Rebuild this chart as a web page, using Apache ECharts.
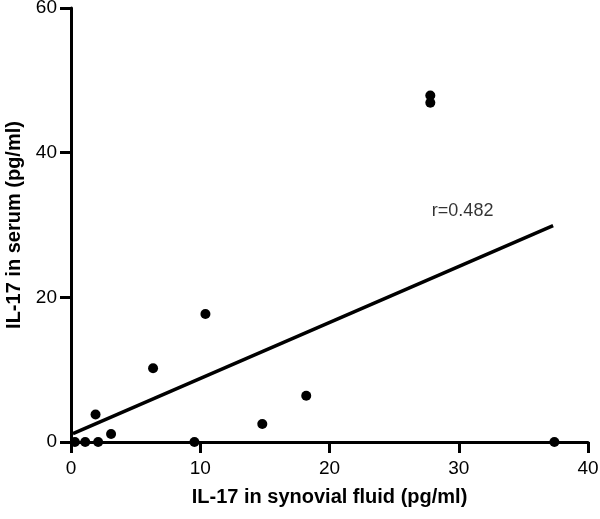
<!DOCTYPE html>
<html>
<head>
<meta charset="utf-8">
<script src="https://cdn.jsdelivr.net/npm/echarts@6/dist/echarts.min.js"></script>
<style>html,body{margin:0;padding:0;background:#fff}#c{width:600px;height:519px}</style>
</head>
<body>
<div id="c"></div>
<script>
const xValues = [0.3, 1.1, 2.1, 9.55, 1.9, 3.1, 6.35, 10.4, 14.8, 18.2, 27.8, 27.8, 37.4];
const yValues = [0, 0, 0, 0, 3.8, 1.1, 10.2, 17.7, 2.5, 6.4, 47.9, 46.9, 0];
const fitX = [0.15, 37.3];
const fitY = [1.15, 29.9];
const annotation = { x: 30.3, y: 31.9, text: 'r=0.482' };
const xTicks = [0, 10, 20, 30, 40];
const yTicks = [0, 20, 40, 60];

const font = 'Liberation Sans, Arial, Helvetica, sans-serif';
const chart = echarts.init(document.getElementById('c'));
chart.setOption({
  animation: false,
  grid: { left: 71, right: 12, top: 8, bottom: 77, containLabel: false, outerBoundsMode: 'none' },
  xAxis: {
    type: 'value', min: xTicks[0], max: xTicks[xTicks.length - 1], interval: 10,
    name: 'IL-17 in synovial fluid (pg/ml)', nameGap: 45, nameLocation: 'middle',
    nameTextStyle: { color: '#000', fontSize: 20, fontWeight: 'bold', fontFamily: font },
    axisLine: { show: true, onZero: false, lineStyle: { color: '#000', width: 3 } },
    axisTick: { show: true, inside: false, length: 11, lineStyle: { color: '#000', width: 3 } },
    splitLine: { show: false },
    axisLabel: { color: '#000', fontSize: 19, fontFamily: font, margin: 17 }
  },
  yAxis: {
    type: 'value', min: yTicks[0], max: yTicks[yTicks.length - 1], interval: 20,
    name: 'IL-17 in serum (pg/ml)', nameGap: 42, nameRotate: 90, nameLocation: 'middle',
    nameTextStyle: { color: '#000', fontSize: 20, fontWeight: 'bold', fontFamily: font },
    axisLine: { show: true, onZero: false, lineStyle: { color: '#000', width: 3 } },
    axisTick: { show: true, inside: false, length: 11, lineStyle: { color: '#000', width: 3 } },
    splitLine: { show: false },
    axisLabel: { color: '#000', fontSize: 19, fontFamily: font, margin: 14 }
  },
  series: [
    {
      type: 'line', data: fitX.map((x, i) => [x, fitY[i]]),
      showSymbol: false, symbol: 'none',
      lineStyle: { color: '#000', width: 3.5 }, z: 2
    },
    {
      type: 'scatter', data: xValues.map((x, i) => [x, yValues[i]]),
      symbol: 'circle', symbolSize: 10,
      itemStyle: { color: '#000', opacity: 1 }, z: 3
    },
    {
      type: 'scatter', data: [[annotation.x, annotation.y]],
      symbolSize: 0, silent: true,
      label: { show: true, position: 'inside', formatter: annotation.text,
        color: '#000', fontSize: 18, fontFamily: font }
    }
  ]
});
</script>
</body>
</html>
